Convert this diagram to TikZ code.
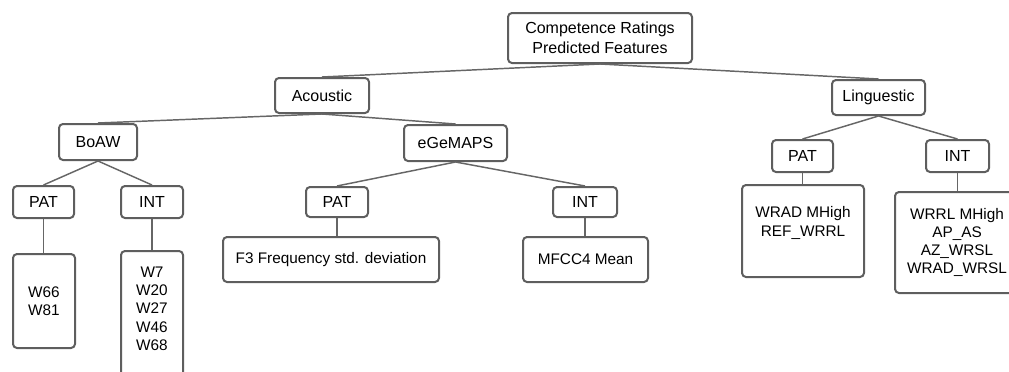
\documentclass[tikz,border=0pt]{standalone}
\usepackage{fontspec}
\setmainfont{Liberation Sans}
\begin{document}
\begin{tikzpicture}[x=0.75pt,y=-0.75pt,
  box/.style={draw=boxgray, line width=1.5pt, rounded corners=3pt, fill=white,
    inner sep=0pt, align=center, text=black,
    font=\fontsize{12}{15}\selectfont},
  leaf/.style={box, font=\fontsize{11.5}{13.7}\selectfont},
  txt/.style={inner sep=0pt, align=center, text=black, font=\fontsize{11.5}{13.7}\selectfont},
  conn/.style={draw=linegray, line width=1.1pt}]
\definecolor{boxgray}{HTML}{5E5E5E}
\definecolor{linegray}{HTML}{666666}
\useasboundingbox (0,0) rectangle (1009,371);
\begin{scope}
\clip (0,0) rectangle (1009,371);
% nodes
\node[box, minimum width=138pt, minimum height=37.5pt] (root) at (600,38) {Competence Ratings\\Predicted Features};
\node[box, minimum width=70.5pt, minimum height=26.25pt] (aco) at (322,95.5) {Acoustic};
\node[box, minimum width=69.75pt, minimum height=26.25pt] (lin) at (878.5,97.5) {Linguestic};
\node[box, minimum width=58.5pt, minimum height=27pt] (boaw) at (98,142) {BoAW};
\node[box, minimum width=77.25pt, minimum height=27pt] (ege) at (455.5,143) {eGeMAPS};
\node[box, minimum width=45.75pt, minimum height=24pt] (pat1) at (43.5,202) {PAT};
\node[box, minimum width=46.5pt, minimum height=24pt] (int1) at (152,202) {INT};
\node[box, minimum width=46.5pt, minimum height=22.5pt] (pat2) at (337,202) {PAT};
\node[box, minimum width=48pt, minimum height=22.5pt] (int2) at (585,202) {INT};
\node[box, minimum width=45.75pt, minimum height=24pt] (pat3) at (802.5,156) {PAT};
\node[box, minimum width=47.25pt, minimum height=24pt] (int3) at (957.5,156) {INT};
\node[leaf, minimum width=46.5pt, minimum height=70.5pt] (w66) at (44,301) {W66\\W81};
\node[leaf, minimum width=46.5pt, minimum height=105pt] (w7) at (152,321) {};
\node[txt, anchor=north] (w7t) at (152,266.5) {W7\\W20\\W27\\W46\\W68};
\node[leaf, minimum width=162pt, minimum height=33.75pt] (f3) at (331,259.5) {F3 Frequency std. deviation};
\node[leaf, minimum width=93.75pt, minimum height=33.75pt] (mfcc) at (585.5,259.5) {MFCC4 Mean};
\node[leaf, minimum width=91.5pt, minimum height=69pt] (wrad) at (803,231) {};
\node[txt] (wradt) at (803,223) {WRAD MHigh\\REF\_WRRL};
\node[leaf, minimum width=93pt, minimum height=75.75pt] (wrrl) at (957,242.5) {WRRL MHigh\\AP\_AS\\AZ\_WRSL\\WRAD\_WRSL};
% connectors
\draw[conn] (root.south) -- (aco.north);
\draw[conn] (root.south) -- (lin.north);
\draw[conn] (aco.south) -- (boaw.north);
\draw[conn] (aco.south) -- (ege.north);
\draw[conn] (boaw.south) -- (pat1.north);
\draw[conn] (boaw.south) -- (int1.north);
\draw[conn] (ege.south) -- (pat2.north);
\draw[conn] (ege.south) -- (int2.north);
\draw[conn] (lin.south) -- (pat3.north);
\draw[conn] (lin.south) -- (int3.north);
\draw[conn] (pat1.south) -- (pat1.south |- w66.north);
\draw[conn] (int1.south) -- (int1.south |- w7.north);
\draw[conn] (pat2.south) -- (pat2.south |- f3.north);
\draw[conn] (int2.south) -- (int2.south |- mfcc.north);
\draw[conn] (pat3.south) -- (pat3.south |- wrad.north);
\draw[conn] (int3.south) -- (int3.south |- wrrl.north);
\end{scope}
\end{tikzpicture}
\end{document}
